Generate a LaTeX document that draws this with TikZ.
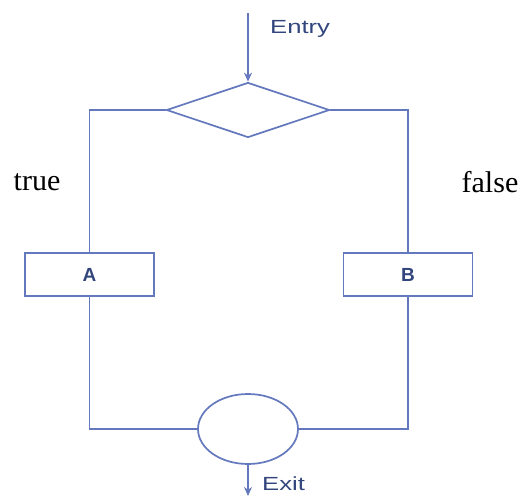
\documentclass[tikz,border=0pt]{standalone}
\usepackage{fontspec}
\setmainfont{Liberation Serif}
\setsansfont{Liberation Sans}
\definecolor{FlowBlue}{RGB}{100, 120, 190}
\definecolor{LabelBlue}{RGB}{50, 70, 125}
\usetikzlibrary{arrows.meta,positioning,shapes.geometric}

\begin{document}
\begin{tikzpicture}[
    x=1pt, y=-1pt,
    flow/.style={draw=FlowBlue, line width=1.7pt},
    blockbox/.style={flow, rectangle, minimum width=129pt, minimum height=43pt, inner sep=0pt,
        font=\sffamily\bfseries\fontsize{19}{22}\selectfont\color{LabelBlue}},
    arr/.style={-{Stealth[length=9pt, width=8pt]}, flow},
    tag/.style={font=\sffamily\fontsize{19}{22}\selectfont\color{LabelBlue}, anchor=west, inner sep=0pt},
    branch/.style={font=\fontsize{30}{34}\selectfont, inner sep=0pt}
]
    \useasboundingbox (0,0) rectangle (523,501);

    \node[flow, diamond, aspect=2.96, minimum width=163pt, minimum height=55pt, inner sep=0pt] (dec) at (248,110) {};
    \node[blockbox] (a) at (89.5,274.5) {A};
    \node[blockbox] (b) at (408,274.5) {B};
    \node[flow, ellipse, minimum width=100pt, minimum height=70pt, inner sep=0pt] (join) at (248,429) {};

    \coordinate (entry) at (248,13);
    \coordinate (exit) at (248,496);

    % entry and exit
    \draw[arr] (entry) -- (dec.north);
    \draw[arr] (join.south) -- (exit);
    \node[tag] (entrylbl) at (270,29) {\scalebox{1.35}[1]{Entry}};
    \node[tag] (exitlbl) at (262,484) {\scalebox{1.35}[1]{Exit}};

    % branches
    \draw[flow] (dec.west) -| (a.north);
    \draw[flow] (dec.east) -| (b.north);
    \draw[flow] (a.south) |- (join.west);
    \draw[flow] (b.south) |- (join.east);

    \node[branch] (truelbl) at (37,182) {true};
    \node[branch] (falselbl) at (490,182) {false};
\end{tikzpicture}
\end{document}
